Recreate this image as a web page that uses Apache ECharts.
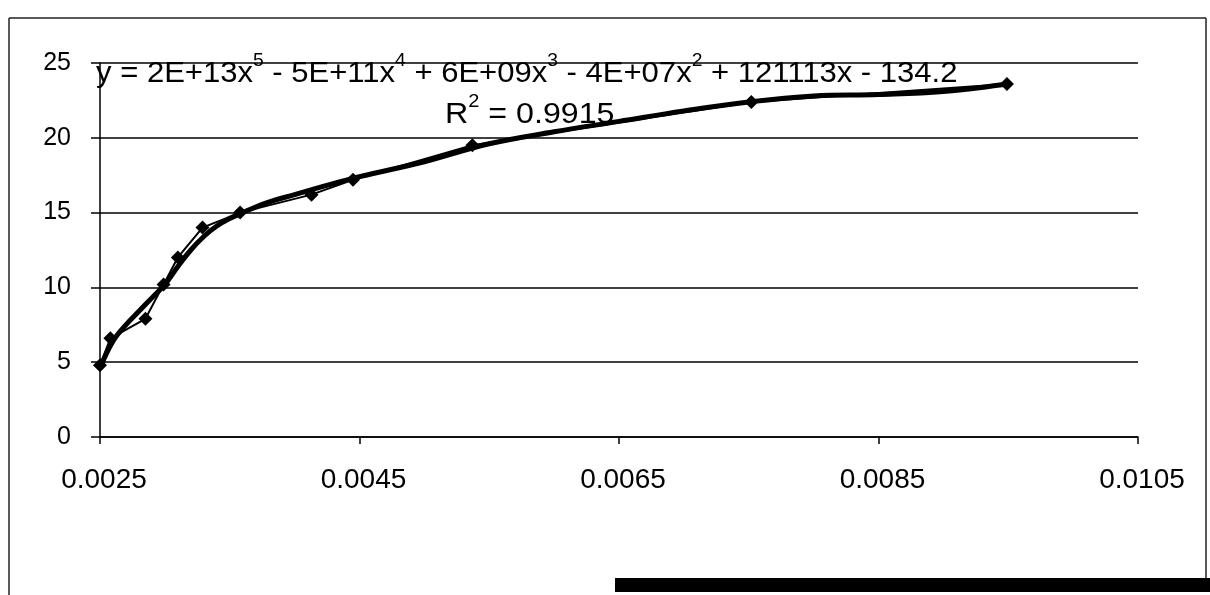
<!DOCTYPE html>
<html>
<head>
<meta charset="utf-8">
<script src="https://cdn.jsdelivr.net/npm/echarts@6/dist/echarts.min.js"></script>
<style>
  html, body { margin: 0; padding: 0; background: #ffffff; }
  #chart { width: 1210px; height: 595px; }
</style>
</head>
<body>
<div id="chart"></div>
<script>
// Measured points (x, y)
const pointX = [0.00250, 0.00258, 0.00285, 0.00299, 0.00310, 0.00329, 0.00358, 0.00413, 0.00445, 0.00537, 0.00752, 0.00949];
const pointY = [4.8, 6.6, 7.9, 10.2, 12.0, 14.0, 15.0, 16.2, 17.2, 19.5, 22.4, 23.6];

// Polynomial trend curve (order 5), sampled along x
const trendX = [0.0025, 0.0026, 0.0027, 0.0028, 0.0029, 0.0030, 0.0031, 0.0032, 0.0033, 0.0034, 0.0035, 0.0036, 0.0038, 0.0040, 0.0042, 0.0045, 0.0050, 0.0055, 0.0060, 0.0065, 0.0070, 0.0075, 0.0080, 0.0085, 0.0090, 0.0095];
const trendY = [4.6, 6.4, 7.5, 8.4, 9.3, 10.2, 11.4, 12.5, 13.4, 14.1, 14.6, 15.0, 15.7, 16.2, 16.7, 17.4, 18.4, 19.6, 20.4, 21.1, 21.8, 22.4, 22.8, 22.9, 23.1, 23.6];

// Axis ticks
const xTicks = [0.0025, 0.0045, 0.0065, 0.0085, 0.0105];
const yTicks = [0, 5, 10, 15, 20, 25];

const FONT = '"Liberation Sans", Arial, sans-serif';

const pointData = pointX.map((x, i) => [x, pointY[i]]);
const trendData = trendX.map((x, i) => [x, trendY[i]]);

const richStyle = {
  n: { fontFamily: FONT, fontSize: 29, fill: '#000', lineHeight: 36, verticalAlign: 'bottom' },
  s: { fontFamily: FONT, fontSize: 18, fill: '#000', lineHeight: 36, verticalAlign: 'top' }
};

const chart = echarts.init(document.getElementById('chart'));

chart.setOption({
  backgroundColor: '#ffffff',
  animation: false,
  grid: { left: 100, right: 72, top: 63, bottom: 158 },
  xAxis: {
    type: 'value',
    min: xTicks[0],
    max: xTicks[xTicks.length - 1],
    interval: xTicks[1] - xTicks[0],
    axisLine: { show: true, lineStyle: { color: '#000', width: 1.5 } },
    axisTick: { show: true, inside: false, length: 7, lineStyle: { color: '#000', width: 1.5 } },
    axisLabel: {
      margin: 29,
      color: '#000',
      fontFamily: FONT,
      fontSize: 28,
      padding: [0, 0, 0, 8],
      formatter: v => v.toFixed(4)
    },
    splitLine: { show: false }
  },
  yAxis: {
    type: 'value',
    min: yTicks[0],
    max: yTicks[yTicks.length - 1],
    interval: yTicks[1] - yTicks[0],
    axisLine: { show: true, lineStyle: { color: '#000', width: 1.5 } },
    axisTick: { show: true, inside: false, length: 9, lineStyle: { color: '#000', width: 1.5 } },
    axisLabel: {
      margin: 29,
      color: '#000',
      fontFamily: FONT,
      fontSize: 25
    },
    splitLine: { show: true, lineStyle: { color: '#000', width: 1.5 } }
  },
  series: [
    {
      name: 'trend',
      type: 'line',
      data: trendData,
      smooth: 0.4,
      showSymbol: false,
      lineStyle: { color: '#000', width: 5 },
      z: 2
    },
    {
      name: 'data',
      type: 'line',
      data: pointData,
      symbol: 'diamond',
      symbolSize: 14,
      itemStyle: { color: '#000' },
      lineStyle: { color: '#000', width: 2 },
      z: 3
    }
  ],
  graphic: [
    // chart frame
    { type: 'line', shape: { x1: 9, y1: 18, x2: 1206, y2: 18 }, style: { stroke: '#222', lineWidth: 1.5 } },
    { type: 'line', shape: { x1: 9, y1: 18, x2: 9, y2: 595 }, style: { stroke: '#222', lineWidth: 1.5 } },
    { type: 'line', shape: { x1: 1206, y1: 18, x2: 1206, y2: 578 }, style: { stroke: '#222', lineWidth: 1.5 } },
    { type: 'rect', shape: { x: 615, y: 578, width: 595, height: 14 }, style: { fill: '#000' } },
    // trendline equation
    {
      type: 'text',
      x: 96,
      y: 52,
      scaleX: 1.07,
      z: 10,
      style: {
        text: '{n|y = 2E+13x}{s|5}{n| - 5E+11x}{s|4}{n| + 6E+09x}{s|3}{n| - 4E+07x}{s|2}{n| + 121113x - 134.2}',
        rich: richStyle
      }
    },
    {
      type: 'text',
      x: 445,
      y: 93,
      scaleX: 1.11,
      z: 10,
      style: {
        text: '{n|R}{s|2}{n| = 0.9915}',
        rich: richStyle
      }
    }
  ]
});
</script>
</body>
</html>
